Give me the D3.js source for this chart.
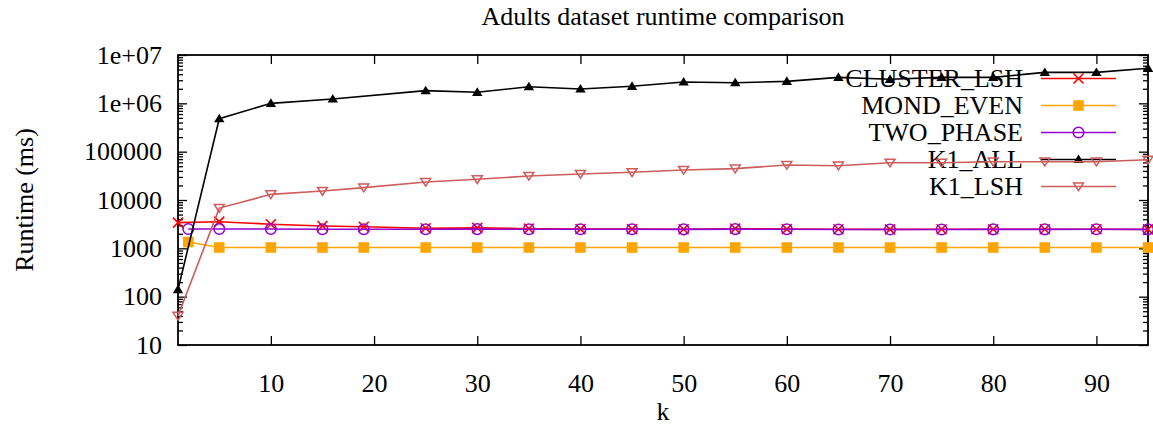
<!DOCTYPE html>
<html>
<head>
<meta charset="utf-8">
<script src="https://cdn.jsdelivr.net/npm/d3@7"></script>
<style>
  body { margin: 0; background: #fff; }
  svg text { font-family: "Liberation Serif", "Times New Roman", serif; fill: #000; }
</style>
</head>
<body>
<div id="chart"></div>
<script>
// values
const kCluster = [1, 5, 10, 15, 19, 25, 30, 35, 40, 45, 50, 55, 60, 65, 70, 75, 80, 85, 90, 95];
const kEven    = [2, 5, 10, 15, 19, 25, 30, 35, 40, 45, 50, 55, 60, 65, 70, 75, 80, 85, 90, 95];
const kAll     = [1, 5, 10, 16, 25, 30, 35, 40, 45, 50, 55, 60, 65, 70, 75, 80, 85, 90, 95];
const kLsh     = [1, 5, 10, 15, 19, 25, 30, 35, 40, 45, 50, 55, 60, 65, 70, 75, 80, 85, 90, 95];

const clusterLsh = [3400, 3560, 3150, 2900, 2800, 2600, 2650, 2550, 2500, 2500, 2480, 2550, 2500, 2480, 2470, 2480, 2480, 2480, 2480, 2460];
const mondEven   = [1350, 1040, 1040, 1040, 1040, 1040, 1040, 1040, 1040, 1040, 1040, 1040, 1040, 1040, 1040, 1040, 1040, 1040, 1040, 1040];
const twoPhase   = [2520, 2520, 2520, 2490, 2490, 2480, 2500, 2480, 2480, 2480, 2470, 2500, 2480, 2460, 2450, 2460, 2470, 2470, 2480, 2470];
const k1All      = [140, 480000, 1000000, 1230000, 1830000, 1690000, 2210000, 1980000, 2250000, 2760000, 2670000, 2850000, 3450000, 3140000, 3450000, 3450000, 4370000, 4370000, 5300000];
const k1Lsh      = [40, 6800, 13100, 15300, 18000, 23600, 26800, 31400, 34500, 37400, 41800, 44500, 53000, 51300, 59000, 59000, 62000, 62000, 62000, 68000];

const xTicks = [10, 20, 30, 40, 50, 60, 70, 80, 90];
const yTicks = [10, 100, 1000, 10000, 100000, 1000000, 10000000];
const yTickLabels = ["10", "100", "1000", "10000", "100000", "1e+06", "1e+07"];

const series = [
  { name: "CLUSTER_LSH", k: kCluster, v: clusterLsh, color: "#ff0000", marker: "cross" },
  { name: "MOND_EVEN", k: kEven, v: mondEven, color: "#ffa500", marker: "square" },
  { name: "TWO_PHASE", k: kEven, v: twoPhase, color: "#9400d3", marker: "circle" },
  { name: "K1_ALL", k: kAll, v: k1All, color: "#000000", marker: "triUp" },
  { name: "K1_LSH", k: kLsh, v: k1Lsh, color: "#cd5c5c", marker: "triDown" },
];

const W = 1153, H = 427;
const margin = { top: 55, right: 5, bottom: 82, left: 178 };
const width = W - margin.left - margin.right;
const height = H - margin.top - margin.bottom;

const svg = d3.select("#chart").append("svg")
  .attr("width", W)
  .attr("height", H);

const g = svg.append("g").attr("transform", `translate(${margin.left},${margin.top})`);

const x = d3.scaleLinear().domain([1, 95]).range([0, width]);
const y = d3.scaleLog().domain([10, 1e7]).range([height, 0]);

// title and axis labels
svg.append("text")
  .attr("x", margin.left + width / 2)
  .attr("y", 25)
  .attr("text-anchor", "middle")
  .style("font-size", "26px")
  .text("Adults dataset runtime comparison");

svg.append("text")
  .attr("transform", `translate(33, ${margin.top + height / 2}) rotate(-90)`)
  .attr("text-anchor", "middle")
  .style("font-size", "26px")
  .text("Runtime (ms)");

svg.append("text")
  .attr("x", margin.left + width / 2)
  .attr("y", 420)
  .attr("text-anchor", "middle")
  .style("font-size", "26px")
  .text("k");

// minor log ticks
const minor = [];
for (let d = 10; d < 1e7; d *= 10) {
  for (let m = 2; m <= 9; m++) minor.push(d * m);
}

const styleAxis = (sel) => {
  sel.select(".domain").remove();
  sel.selectAll("line").attr("stroke", "#000").attr("stroke-width", 1.3);
  sel.selectAll("text").style("font-size", "26px").attr("fill", "#000")
    .style("font-family", "'Liberation Serif', 'Times New Roman', serif");
};

g.append("g")
  .attr("transform", `translate(0,${height})`)
  .call(d3.axisBottom(x).tickValues(xTicks).tickSizeInner(-9).tickSizeOuter(0).tickPadding(29).tickFormat(d3.format("d")))
  .call(styleAxis);

g.append("g")
  .call(d3.axisTop(x).tickValues(xTicks).tickSizeInner(-9).tickSizeOuter(0).tickFormat(""))
  .call(styleAxis);

g.append("g")
  .call(d3.axisLeft(y).tickValues(yTicks).tickSizeInner(-9).tickSizeOuter(0).tickPadding(16)
    .tickFormat((d, i) => yTickLabels[i]))
  .call(styleAxis);

g.append("g")
  .call(d3.axisLeft(y).tickValues(minor).tickSizeInner(-5).tickSizeOuter(0).tickFormat(""))
  .call(styleAxis);

g.append("g")
  .attr("transform", `translate(${width},0)`)
  .call(d3.axisRight(y).tickValues(yTicks).tickSizeInner(-9).tickSizeOuter(0).tickFormat(""))
  .call(styleAxis);

g.append("g")
  .attr("transform", `translate(${width},0)`)
  .call(d3.axisRight(y).tickValues(minor).tickSizeInner(-5).tickSizeOuter(0).tickFormat(""))
  .call(styleAxis);

// frame
g.append("rect")
  .attr("width", width)
  .attr("height", height)
  .attr("fill", "none")
  .attr("stroke", "#000")
  .attr("stroke-width", 1.8);

function drawMarker(sel, type, color) {
  if (type === "cross") {
    sel.append("path").attr("d", "M-5,-5L5,5M-5,5L5,-5")
      .attr("stroke", color).attr("stroke-width", 1.6).attr("fill", "none");
  } else if (type === "square") {
    sel.append("rect").attr("x", -5.3).attr("y", -5.3).attr("width", 10.6).attr("height", 10.6)
      .attr("fill", color);
  } else if (type === "circle") {
    sel.append("circle").attr("r", 5.3)
      .attr("stroke", color).attr("stroke-width", 1.5).attr("fill", "none");
  } else if (type === "triUp") {
    sel.append("path").attr("d", "M0,-5L5.2,3.6L-5.2,3.6Z").attr("fill", color);
  } else if (type === "triDown") {
    sel.append("path").attr("d", "M0,4.2L-5,-3.6L5,-3.6Z")
      .attr("stroke", color).attr("stroke-width", 1.5).attr("fill", "none");
  }
}

const line = d3.line().x(d => x(d[0])).y(d => y(d[1]));

const legX = 1023 - margin.left, legLine = [1041 - margin.left, 1116 - margin.left];
const legY0 = 78.5 - margin.top, legStep = 27;

series.forEach((s, i) => {
  // key entry first, then the data, as gnuplot does
  const ly = legY0 + i * legStep;
  g.append("text")
    .attr("x", legX)
    .attr("y", ly)
    .attr("dy", "0.34em")
    .attr("text-anchor", "end")
    .style("font-size", "26px")
    .text(s.name);
  g.append("line")
    .attr("x1", legLine[0]).attr("x2", legLine[1])
    .attr("y1", ly).attr("y2", ly)
    .attr("stroke", s.color).attr("stroke-width", 1.6);
  g.append("g")
    .attr("transform", `translate(${(legLine[0] + legLine[1]) / 2},${ly})`)
    .call(drawMarker, s.marker, s.color);

  const pts = s.k.map((k, j) => [k, s.v[j]]);
  g.append("path")
    .datum(pts)
    .attr("d", line)
    .attr("fill", "none")
    .attr("stroke", s.color)
    .attr("stroke-width", 1.6);

  g.selectAll(`.m-${i}`)
    .data(pts)
    .enter()
    .append("g")
    .attr("class", `m-${i}`)
    .attr("transform", d => `translate(${x(d[0])},${y(d[1])})`)
    .each(function () { drawMarker(d3.select(this), s.marker, s.color); });
});
</script>
</body>
</html>
